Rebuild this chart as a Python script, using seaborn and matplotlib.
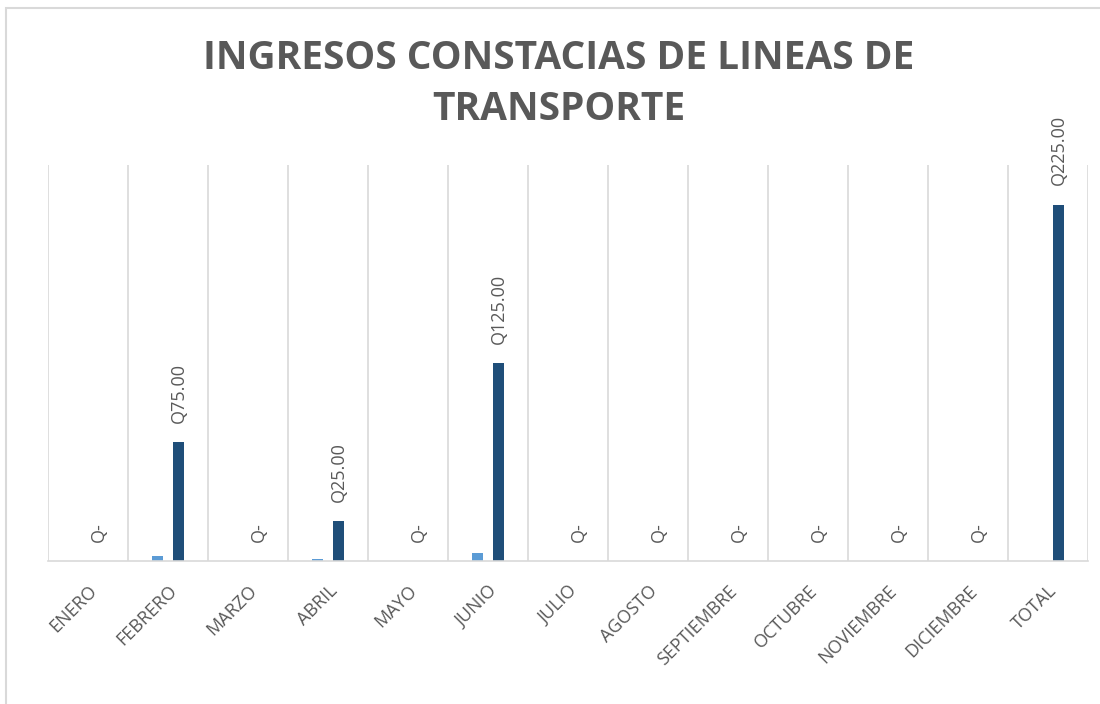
import matplotlib
matplotlib.use("Agg")
import matplotlib.pyplot as plt
import seaborn as sns
import pandas as pd
import numpy as np
from matplotlib.patches import Rectangle

categorias = ["ENERO", "FEBRERO", "MARZO", "ABRIL", "MAYO", "JUNIO", "JULIO",
              "AGOSTO", "SEPTIEMBRE", "OCTUBRE", "NOVIEMBRE", "DICIEMBRE", "TOTAL"]
cantidad = [0, 3, 0, 1, 0, 5, 0, 0, 0, 0, 0, 0, 0]
vacio = [0] * 13
ingresos = [0, 75, 0, 25, 0, 125, 0, 0, 0, 0, 0, 0, 225]
series = ["Cantidad", "Vacio", "Ingresos"]
colores = ["#5B9BD5", "#FFFFFF", "#1F4E79"]

df = pd.DataFrame({
    "mes": categorias * 3,
    "serie": [series[0]] * 13 + [series[1]] * 13 + [series[2]] * 13,
    "valor": cantidad + vacio + ingresos,
})

sns.set_style("white")
plt.rcParams['font.family'] = ['Open Sans', 'DejaVu Sans']

fig = plt.figure(figsize=(11, 7.04), dpi=100)
ax = fig.add_axes([48 / 1100, 1 - 561 / 704, 1040 / 1100, (561 - 165) / 704])

sns.barplot(data=df, x="mes", y="valor", hue="serie", palette=colores,
            width=0.39, ax=ax, legend=False, order=categorias, hue_order=series,
            saturation=1, errorbar=None, linewidth=0)

ax.set_ylim(0, 250)
ax.set_xlim(-0.5, 12.5)
ax.set_yticks([])
ax.set_xlabel("")
ax.set_ylabel("")
for s in ["top", "right", "left"]:
    ax.spines[s].set_visible(False)
ax.spines["bottom"].set_color("#D9D9D9")
ax.spines["bottom"].set_linewidth(1.2)

for b in np.arange(-0.5, 13, 1.0):
    ax.axvline(b, color="#D9D9D9", lw=1.2, zorder=0)

ax.set_xticks(range(13))
ax.set_xticklabels(categorias, rotation=45, ha="right", rotation_mode="anchor",
                   fontsize=13, color="#595959")
ax.tick_params(axis="x", length=0, pad=15)

# data labels on the Ingresos series
dark = ax.containers[2]
for rect, v in zip(dark, ingresos):
    txt = "Q-" if v == 0 else f"Q{v:.2f}"
    x = rect.get_x() + rect.get_width() / 2
    ax.annotate(txt, (x, v), xytext=(0, 14), textcoords="offset points",
                rotation=90, ha="center", va="bottom", fontsize=13,
                color="#595959", annotation_clip=False)

fig.text(559 / 1100, 1 - 84 / 704, "INGRESOS CONSTACIAS DE LINEAS DE\nTRANSPORTE",
         ha="center", va="center", fontsize=28, fontweight="bold",
         color="#595959", linespacing=1.38)

fig.patches.append(Rectangle((6 / 1100, -0.1), 1.2, 1 - 8 / 704 + 0.1,
                             transform=fig.transFigure, fill=False,
                             edgecolor="#D9D9D9", lw=1.5))

fig.savefig("out.png", dpi=100, facecolor="white")
